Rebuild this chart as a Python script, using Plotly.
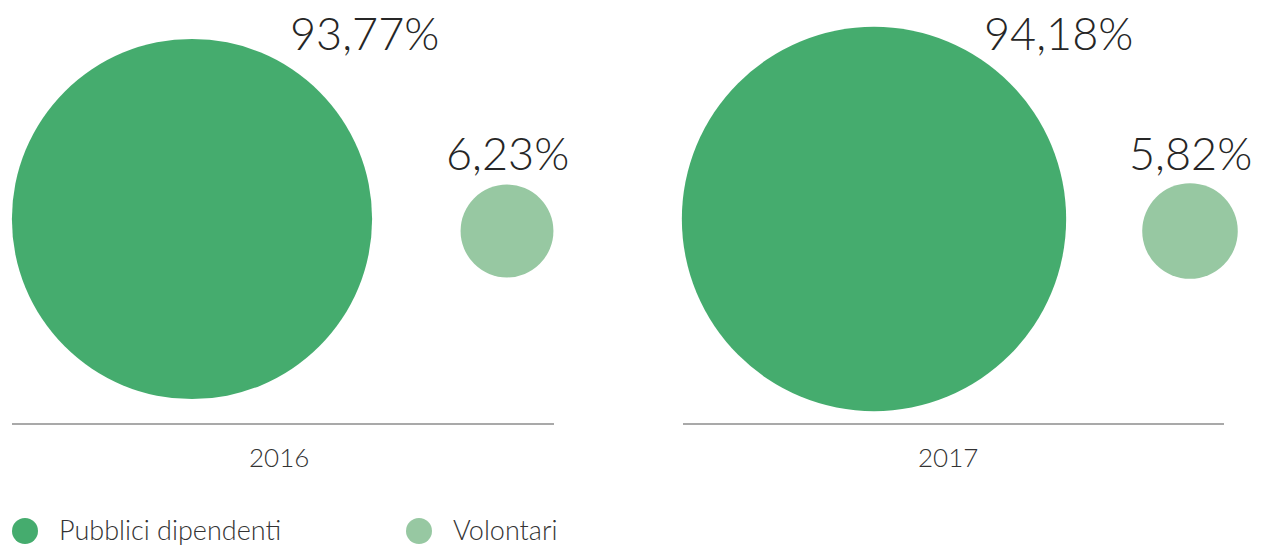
import plotly.graph_objects as go
import math

# ---- data ----
years = ["2016", "2017"]
categories = ["Pubblici dipendenti", "Volontari"]
values_2016 = [93.77, 6.23]
values_2017 = [94.18, 5.82]
colors = ["#45ac6e", "#97c8a2"]

# ---- layout (pixel space) ----
W, H = 1265, 547
group_layout = {
    "2016": {"cx": [192, 507], "cy": [219, 231], "k": 37.2,
             "lx": [364, 507], "ly": [33, 153], "line": [12, 554], "yx": 279},
    "2017": {"cx": [874, 1190], "cy": [219, 231], "k": 39.6,
             "lx": [1058, 1190], "ly": [33, 153], "line": [683, 1224], "yx": 948},
}
FONT = "Lato"

def fmt(v):
    return f"{v:.2f}".replace(".", ",") + "%"

fig = go.Figure()
shapes = []
annotations = []
for year, vals in zip(years, [values_2016, values_2017]):
    g = group_layout[year]
    for i, (cat, v) in enumerate(zip(categories, vals)):
        d = g["k"] * math.sqrt(v)
        fig.add_trace(go.Scatter(
            x=[g["cx"][i]], y=[g["cy"][i]], mode="markers",
            marker=dict(size=[d], sizemode="diameter", color=colors[i],
                        line=dict(width=0), opacity=1),
            name=cat, showlegend=False, hoverinfo="skip"))
        annotations.append(dict(x=g["lx"][i], y=g["ly"][i], xref="x", yref="y",
                                text=fmt(v), showarrow=False,
                                font=dict(family=FONT, size=45, color="#262626", weight=300),
                                xanchor="center", yanchor="middle"))
    shapes.append(dict(type="line", xref="x", yref="y", x0=g["line"][0], x1=g["line"][1],
                       y0=424, y1=424, line=dict(color="#8c8c8c", width=1.5)))
    annotations.append(dict(x=g["yx"], y=457, xref="x", yref="y", text=year, showarrow=False,
                            font=dict(family=FONT, size=26, color="#333333", weight=300),
                            xanchor="center", yanchor="middle"))

# manual legend
leg_x = [25, 419]
for i, cat in enumerate(categories):
    shapes.append(dict(type="circle", xref="x", yref="y", x0=leg_x[i] - 13, x1=leg_x[i] + 13,
                       y0=531 - 13, y1=531 + 13, fillcolor=colors[i], line=dict(width=0)))
    annotations.append(dict(x=leg_x[i] + 32, y=529, xref="x", yref="y", text=cat, showarrow=False,
                            font=dict(family=FONT, size=27, color="#333333", weight=300),
                            xanchor="left", yanchor="middle"))

fig.update_layout(
    width=W, height=H, margin=dict(l=0, r=0, t=0, b=0),
    paper_bgcolor="white", plot_bgcolor="white",
    xaxis=dict(range=[0, W], visible=False, fixedrange=True),
    yaxis=dict(range=[H, 0], visible=False, fixedrange=True),
    shapes=shapes, annotations=annotations, showlegend=False,
)
fig.write_html("out.html", config={"displayModeBar": False},
               post_script="document.body.style.margin='0';document.body.style.overflow='hidden';")
